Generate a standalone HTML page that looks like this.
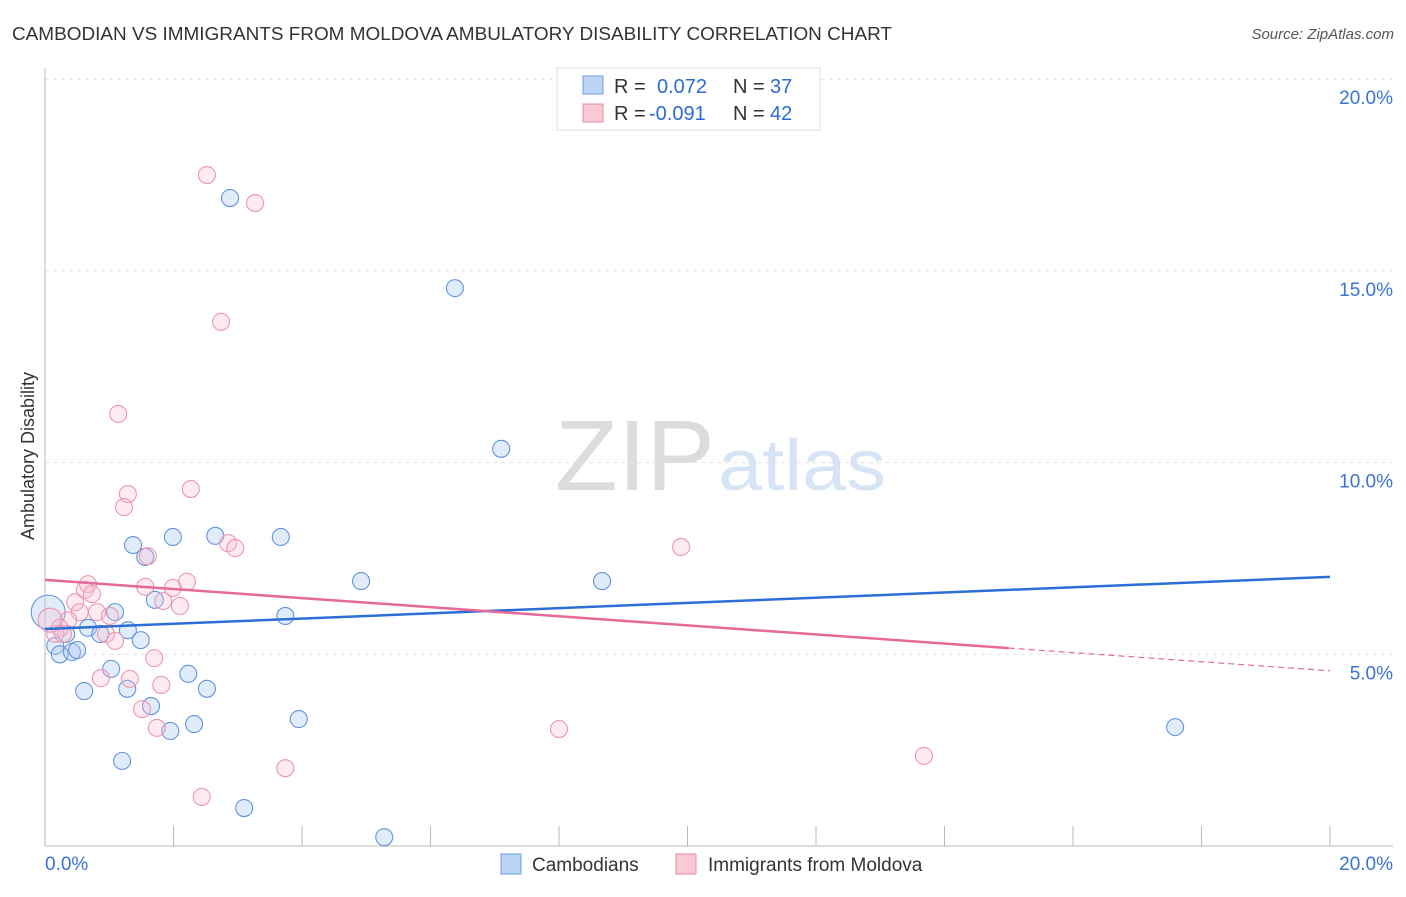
<!DOCTYPE html>
<html><head><meta charset="utf-8"><style>
body{margin:0;background:#fff;font-family:"Liberation Sans",sans-serif}
svg text{font-family:"Liberation Sans",sans-serif}
</style></head><body>
<svg id="c" width="1406" height="892">
<text x="12" y="40" font-size="18" fill="#333" textLength="880" lengthAdjust="spacingAndGlyphs">CAMBODIAN VS IMMIGRANTS FROM MOLDOVA AMBULATORY DISABILITY CORRELATION CHART</text>
<text x="1394" y="39" font-size="15" fill="#555" text-anchor="end" font-style="italic">Source: ZipAtlas.com</text>
<text x="34" y="456" font-size="18" fill="#333" text-anchor="middle" transform="rotate(-90 34 456)">Ambulatory Disability</text>
<g><text x="555" y="490" font-size="100" fill="#dcdcdc" textLength="160" lengthAdjust="spacingAndGlyphs" font-family="Liberation Serif">ZIP</text><text x="718" y="490" font-size="72" fill="#d6e4f5" textLength="168" lengthAdjust="spacingAndGlyphs">atlas</text></g>
<g id="grid"></g><g id="pts"></g><g id="lines"></g>
<g>
<rect x="557" y="68" width="263" height="62" fill="#fff" stroke="#ddd"/>
<rect x="583" y="76" width="20" height="18" fill="#bcd4f5" stroke="#6d9de0"/>
<rect x="583" y="104" width="20" height="18" fill="#f9c9d6" stroke="#e88aa6"/>
<text x="614" y="93" font-size="20" fill="#333">R =</text><text x="657" y="93" font-size="20" fill="#2b6bd6">0.072</text>
<text x="733" y="93" font-size="20" fill="#333">N =</text><text x="770" y="93" font-size="20" fill="#2b6bd6">37</text>
<text x="614" y="120" font-size="20" fill="#333">R =</text><text x="649" y="120" font-size="20" fill="#2b6bd6">-0.091</text>
<text x="733" y="120" font-size="20" fill="#333">N =</text><text x="770" y="120" font-size="20" fill="#2b6bd6">42</text>
</g>
<g>
<rect x="501" y="854" width="20" height="20" fill="#bcd4f5" stroke="#6d9de0"/>
<text x="532" y="871" font-size="19" fill="#333">Cambodians</text>
<rect x="676" y="854" width="20" height="20" fill="#f9c9d6" stroke="#e88aa6"/>
<text x="708" y="871" font-size="19" fill="#333">Immigrants from Moldova</text>
</g>
</svg>
<script>
const yTicks=[5,10,15,20];
const yTickLabels=["5.0%","10.0%","15.0%","20.0%"];
const blueX=[2.88,6.38,7.10,1.37,1.99,2.65,3.67,1.56,4.92,8.67,1.71,1.09,3.74,0.05,0.67,0.33,0.86,1.29,1.49,0.16,0.23,0.42,0.5,1.03,0.61,1.28,2.23,2.52,1.65,1.95,2.32,3.95,17.59,1.20,3.10,5.28];
const blueY=[16.9,14.55,10.36,7.85,8.06,8.09,8.06,7.54,6.91,6.91,6.42,6.10,6.0,6.1,5.69,5.53,5.53,5.63,5.37,5.22,5.0,5.06,5.11,4.62,4.04,4.10,4.49,4.10,3.65,3.0,3.18,3.31,3.10,2.22,0.99,0.23];
const pinkX=[2.52,3.27,2.74,1.14,2.27,1.29,1.23,9.90,2.85,2.96,1.60,0.67,0.62,1.56,2.21,1.99,0.73,0.47,0.54,0.81,1.01,1.84,2.10,0.36,0.23,0.16,0.28,0.95,1.09,1.70,0.87,1.32,1.81,1.51,1.74,8.0,13.68,3.74,2.44,0.08];
const pinkY=[17.5,16.77,13.67,11.27,9.31,9.18,8.84,7.80,7.90,7.77,7.56,6.83,6.68,6.76,6.89,6.73,6.57,6.36,6.10,6.10,6.0,6.39,6.26,5.89,5.69,5.53,5.53,5.53,5.35,4.90,4.38,4.36,4.20,3.57,3.08,3.05,2.35,2.03,1.28,5.89];
const blueTrend=[5.66,7.02];
const pinkTrend=[6.94,4.57];
const NS="http://www.w3.org/2000/svg";
const X=v=>45+v/20*1285, Y=v=>846-v/5*191.7;
function mk(p,tag,a){const e=document.createElementNS(NS,tag);for(const k in a)e.setAttribute(k,a[k]);p.appendChild(e);return e;}
const g=document.getElementById('grid');
yTicks.forEach((t,i)=>{
 const l=mk(g,'line',{x1:45,x2:1393,y1:Y(t),y2:Y(t),stroke:'#e2e2e2','stroke-dasharray':'4 4'});
 
 
 const tx=mk(g,'text',{x:1393,y:Y(t)+25,'font-size':19,fill:'#3b73d1','text-anchor':'end'});
 tx.textContent=yTickLabels[i];
 
 
});
mk(g,'line',{x1:45,x2:45,y1:68,y2:846,stroke:'#bbb'});
mk(g,'line',{x1:45,x2:1393,y1:846,y2:846,stroke:'#bbb'});
for(let i=0;i<=10;i++){const l=mk(g,'line',{x1:X(i*2),x2:X(i*2),y1:826,y2:846,stroke:'#bbb'});
 
 }
const x0=mk(g,'text',{x:45,y:870,'font-size':19,fill:'#3b73d1'});x0.textContent='0.0%';


const x1=mk(g,'text',{x:1393,y:870,'font-size':19,fill:'#3b73d1','text-anchor':'end'});x1.textContent='20.0%';


const p=document.getElementById('pts');
blueX.forEach((v,i)=>{const c=mk(p,'circle',{cx:X(v),cy:Y(blueY[i]),r:i==13?17:8.5,fill:'rgba(170,200,240,0.35)',stroke:'#6394dc','stroke-width':1.1});
 
 });
pinkX.forEach((v,i)=>{const c=mk(p,'circle',{cx:X(v),cy:Y(pinkY[i]),r:i==39?12:8.5,fill:'rgba(248,190,208,0.3)',stroke:'#eb97b0','stroke-width':1.1});
 
 });
const L=document.getElementById('lines');
const bl=mk(L,'line',{x1:X(0),y1:Y(blueTrend[0]),x2:X(20),y2:Y(blueTrend[1]),stroke:'#2b6fd6','stroke-width':2.5});


const pm=v=>pinkTrend[0]+(pinkTrend[1]-pinkTrend[0])*v/20;
const pl=mk(L,'line',{x1:X(0),y1:Y(pm(0)),x2:X(15),y2:Y(pm(15)),stroke:'#e5699a','stroke-width':2.5});


const pd=mk(L,'line',{x1:X(15),y1:Y(pm(15)),x2:X(20),y2:Y(pm(20)),stroke:'#e5699a','stroke-width':1.2,'stroke-dasharray':'6 4'});


</script>
</body></html>
